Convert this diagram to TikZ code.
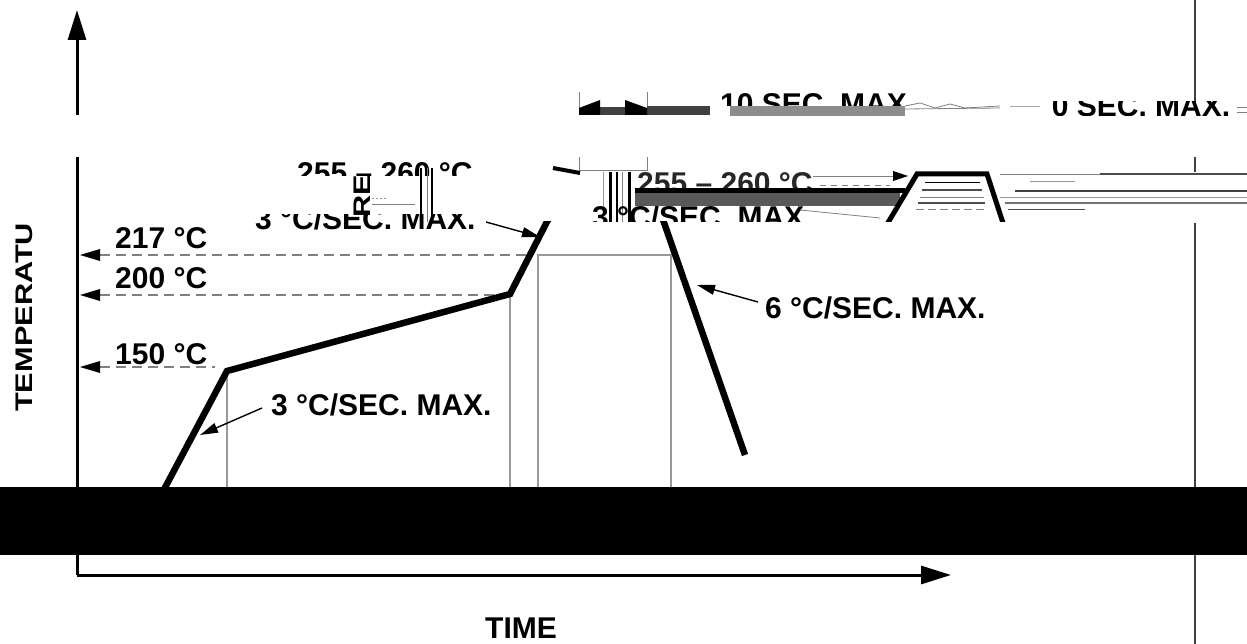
\documentclass[tikz,border=0pt]{standalone}
\usepackage{fontspec}
\setmainfont{Liberation Sans}
\usetikzlibrary{arrows.meta}
\begin{document}
\begin{tikzpicture}[x=1pt,y=-1pt,
  lbl/.style={font=\fontsize{30}{32}\selectfont\bfseries, inner sep=0pt, anchor=base west},
  axisline/.style={line width=3pt},
  axistip/.style={-{Triangle[length=30pt,width=18pt]}},
  profile/.style={line width=6.5pt, line join=miter},
  guide/.style={line width=1.6pt, black!40},
  dashline/.style={line width=1.6pt, black!50, dash pattern=on 10pt off 6pt},
  leader/.style={line width=1.4pt, -{Triangle[length=18pt,width=10pt]}},
  thinl/.style={line width=0.8pt, black!50}
]
\useasboundingbox (0,0) rectangle (1247,644);
\fill[white] (0,0) rectangle (1247,644);

% ---------------- axes ----------------
\coordinate (ytop) at (77,10);
\coordinate (ybrk) at (77,115);
\coordinate (yres) at (77,157);
\coordinate (org) at (77,575);
\coordinate (xend) at (951,575);
\draw[axisline, axistip] (ybrk) -- (ytop);
\draw[axisline] (yres) -- (org);
\draw[axisline, axistip] (org) -- (xend);

% right frame line
\coordinate (r0) at (1195,0);
\coordinate (r1) at (1195,103);
\coordinate (r2) at (1195,157);
\coordinate (r3) at (1195,172);
\coordinate (r4) at (1195,223);
\coordinate (r5) at (1195,644);
\draw[line width=2pt, black!75] (r0) -- (r1);
\draw[line width=2pt, black!75] (r2) -- (r3);
\draw[line width=2pt, black!75] (r4) -- (r5);

% ---------------- guide lines ----------------
\draw[dashline] (100,367) -- (215,367);
\draw[dashline] (100,295) -- (505,295);
\draw[dashline] (100,255) -- (528,255);
\foreach \yy in {367,295,255}
  \fill (80,\yy) -- (100,\yy-6) -- (100,\yy+6) -- cycle;

\draw[guide] (227,371) -- (227,487);
\draw[guide] (510,294) -- (510,487);
\draw[guide] (538,487) -- (538,255) -- (671,255) -- (671,487);

% ---------------- profile ----------------
\coordinate (p0) at (160,497);
\coordinate (p1) at (227,371);
\coordinate (p2) at (510,294);
\coordinate (p3) at (553,210);
\coordinate (q0) at (661,214);
\coordinate (q1) at (745,455);
\begin{scope}
  \clip (0,222) rectangle (1247,487);
  \draw[profile] (p0) -- (p1) -- (p2) -- (p3);
  \draw[profile] (q0) -- (q1);
  \draw[leader] (486,222) -- (540,237);
\end{scope}
\begin{scope}
  \clip (0,215) rectangle (500,232);
  \node[lbl] (r3a) at (255,230) {3 °C/SEC. MAX.};
\end{scope}

% ---------------- labels ----------------
\node[lbl] (t217) at (115,249) {217 °C};
\node[lbl] (t200) at (115,289) {200 °C};
\node[lbl] (t150) at (115,364) {150 °C};
\node[lbl] (r3b) at (271,415) {3 °C/SEC. MAX.};
\node[lbl] (r6) at (765,318) {6 °C/SEC. MAX.};
\coordinate (r3tip) at (200,435);
\coordinate (r6tip) at (697,285);
\draw[leader] (262,408) -- (r3tip);
\draw[leader] (758,302) -- (r6tip);

\node[font=\fontsize{30}{32}\selectfont\bfseries, inner sep=0pt, anchor=base] (time) at (521,638) {TIME};
\begin{scope}
  \clip (0,222) rectangle (77,487);
  \node[font=\fontsize{24}{26}\selectfont\bfseries, inner sep=0pt, anchor=base west, rotate=90] (temp) at (32,412) {\scalebox{1.28}[1]{TEMPERATU}};
\end{scope}

% ---------------- top band (glitched) ----------------
\draw[thinl] (579,92) -- (579,115);
\draw[thinl] (647,92) -- (647,115);
\fill[black!75] (600,107) rectangle (625,115);
\fill[black!75] (647,106) rectangle (710,115);
\fill (579,108) -- (600,100) -- (600,115) -- (579,115) -- cycle;
\fill (625,100) -- (647,108) -- (647,115) -- (625,115) -- cycle;
\begin{scope}
  \clip (715,88) rectangle (905,106);
  \node[lbl] (t10) at (720,115) {10 SEC. MAX.};
\end{scope}
\fill[black!45] (730,106) rectangle (905,116);
\draw[thinl] (905,106) -- (920,103) -- (935,108) -- (950,104) -- (965,108) -- (1000,106);
\draw[thinl] (905,109) -- (1000,108);
\draw[line width=0.6pt, black!35] (1010,106) -- (1040,106);
\begin{scope}
  \clip (1052,102) rectangle (1247,116);
  \node[lbl] (t60) at (1035,117) {60 SEC. MAX.};
\end{scope}
\draw[thinl] (1237,107) -- (1247,107);
\draw[thinl] (1237,112) -- (1247,112);

% ---------------- middle band (glitched) ----------------
\draw[thinl] (579,157) -- (579,170) -- (647,170) -- (647,157);
\begin{scope}
  \clip (290,158) rectangle (480,176);
  \node[lbl] (t255a) at (297,184) {255 – 260 °C};
\end{scope}
\node[font=\fontsize{24}{26}\selectfont\bfseries, inner sep=0pt, anchor=base west, rotate=90] (re) at (370,218) {\scalebox{1.28}[1]{RE}};
\draw[thinl] (372,204) -- (415,204);
\draw[line width=0.6pt, black!40, dash pattern=on 2pt off 2pt] (372,198) -- (388,198);
\draw[line width=2pt] (421,168) -- (421,222);
\draw[line width=1pt, black!50] (427,168) -- (427,222);
\draw[line width=2pt] (432,168) -- (432,222);
\draw[line width=4pt] (553,168) -- (580,173);
\draw[line width=1pt, black!40] (603,172) -- (603,222);
\draw[line width=3pt] (610,172) -- (610,222);
\draw[line width=2pt] (617,172) -- (617,222);
\draw[line width=1pt, black!50] (622,172) -- (622,222);
\draw[line width=3pt] (629,172) -- (629,222);
\begin{scope}
  \clip (632,172) rectangle (820,188);
  \node[lbl, text=black!85] (t255b) at (637,194) {255 – 260 °C};
\end{scope}
\fill (635,188) rectangle (905,193);
\fill[black!65] (635,193) rectangle (900,206);
\begin{scope}
  \clip (585,207) rectangle (820,222);
  \node[lbl] (t3c) at (592,228) {3 °C/SEC. MAX.};
\end{scope}
\draw[thinl] (800,210) -- (880,218);
\draw[thinl] (813,176) -- (895,176);
\fill (908,176) -- (893,171) -- (893,181) -- cycle;
\draw[line width=0.8pt, black!50, dash pattern=on 6pt off 5pt] (820,185) -- (890,185);
\begin{scope}
  \clip (850,150) rectangle (1020,222);
  \draw[line width=5pt, line join=miter] (886,226) -- (917,174) -- (987,174) -- (1004,226);
\end{scope}
\draw[line width=1pt] (925,183) -- (980,183);
\draw[line width=1.5pt, black!70] (922,190) -- (982,190);
\draw[line width=0.8pt, black!50] (920,197) -- (984,197);
\draw[line width=1.5pt, black!70] (918,203) -- (985,203);
\draw[line width=0.8pt, black!50, dash pattern=on 8pt off 4pt] (916,209) -- (986,209);
\draw[line width=0.8pt, black!50] (1000,174) -- (1100,174);
\draw[line width=2pt, black!70] (1100,174) -- (1247,174);
\draw[line width=0.6pt, black!40] (1030,181) -- (1075,181);
\draw[line width=1.5pt, black!75] (1015,191) -- (1247,191);
\draw[line width=0.8pt, black!40] (1000,197) -- (1247,197);
\draw[line width=1.5pt, black!55] (1005,203) -- (1247,203);
\draw[line width=1pt, black!70] (1008,210) -- (1085,210);

% ---------------- black band ----------------
\fill[black] (0,487) rectangle (1247,555);
\end{tikzpicture}
\end{document}
